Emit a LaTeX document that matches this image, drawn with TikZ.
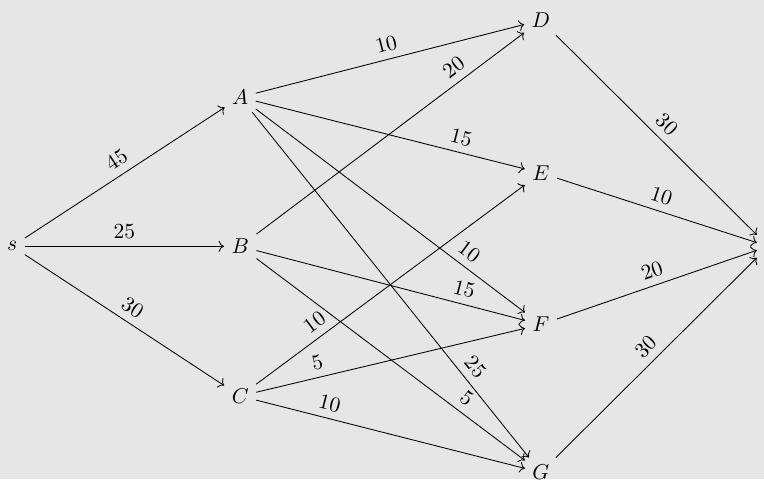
\documentclass[tikz,border=0pt]{standalone}
\usepackage{xcolor}
\definecolor{bggray}{HTML}{E6E6E6}
\usetikzlibrary{arrows.meta}

\begin{document}
\begin{tikzpicture}[
  vx/.style={inner sep=3.33pt},
  sink/.style={inner sep=0pt, minimum width=10.3pt, minimum height=12.8pt},
  arr/.style={draw=black, ->},
  wt/.style={sloped, above}
]
  \fill[bggray] (-0.2,-3.81) rectangle (12.3,4.03);
  \useasboundingbox (-0.2,-3.81) rectangle (12.3,4.03);

  \node[vx] (s) at (0,0)        {$s$};
  \node[vx] (A) at (3.73,2.44)  {$A$};
  \node[vx] (B) at (3.73,0)     {$B$};
  \node[vx] (C) at (3.73,-2.45) {$C$};
  \node[vx] (D) at (8.65,3.70)  {$D$};
  \node[vx] (E) at (8.65,1.20)  {$E$};
  \node[vx] (F) at (8.65,-1.28) {$F$};
  \node[vx] (G) at (8.65,-3.70) {$G$};
  \node[sink] (t) at (12.37,0)  {};

  \draw[arr] (s) -- node[wt] {45} (A);
  \draw[arr] (s) -- node[wt] {25} (B);
  \draw[arr] (s) -- node[wt] {30} (C);

  \draw[arr] (A) -- node[wt] {10} (D);
  \draw[arr] (A) -- node[wt, pos=0.75] {15} (E);
  \draw[arr] (A) -- node[wt, pos=0.76] {10} (F);
  \draw[arr] (A) -- node[wt, pos=0.765] {25} (G);

  \draw[arr] (B) -- node[wt, pos=0.77] {20} (D);
  \draw[arr] (B) -- node[wt, pos=0.76] {15} (F);
  \draw[arr] (B) -- node[wt, pos=0.75] {5} (G);

  \draw[arr] (C) -- node[wt, pos=0.25] {10} (E);
  \draw[arr] (C) -- node[wt, pos=0.24] {5} (F);
  \draw[arr] (C) -- node[wt, pos=0.26] {10} (G);

  \draw[arr] (D) -- node[wt] {30} (t);
  \draw[arr] (E) -- node[wt] {10} (t);
  \draw[arr] (F) -- node[wt] {20} (t);
  \draw[arr] (G) -- node[wt] {30} (t);

\end{tikzpicture}
\end{document}
